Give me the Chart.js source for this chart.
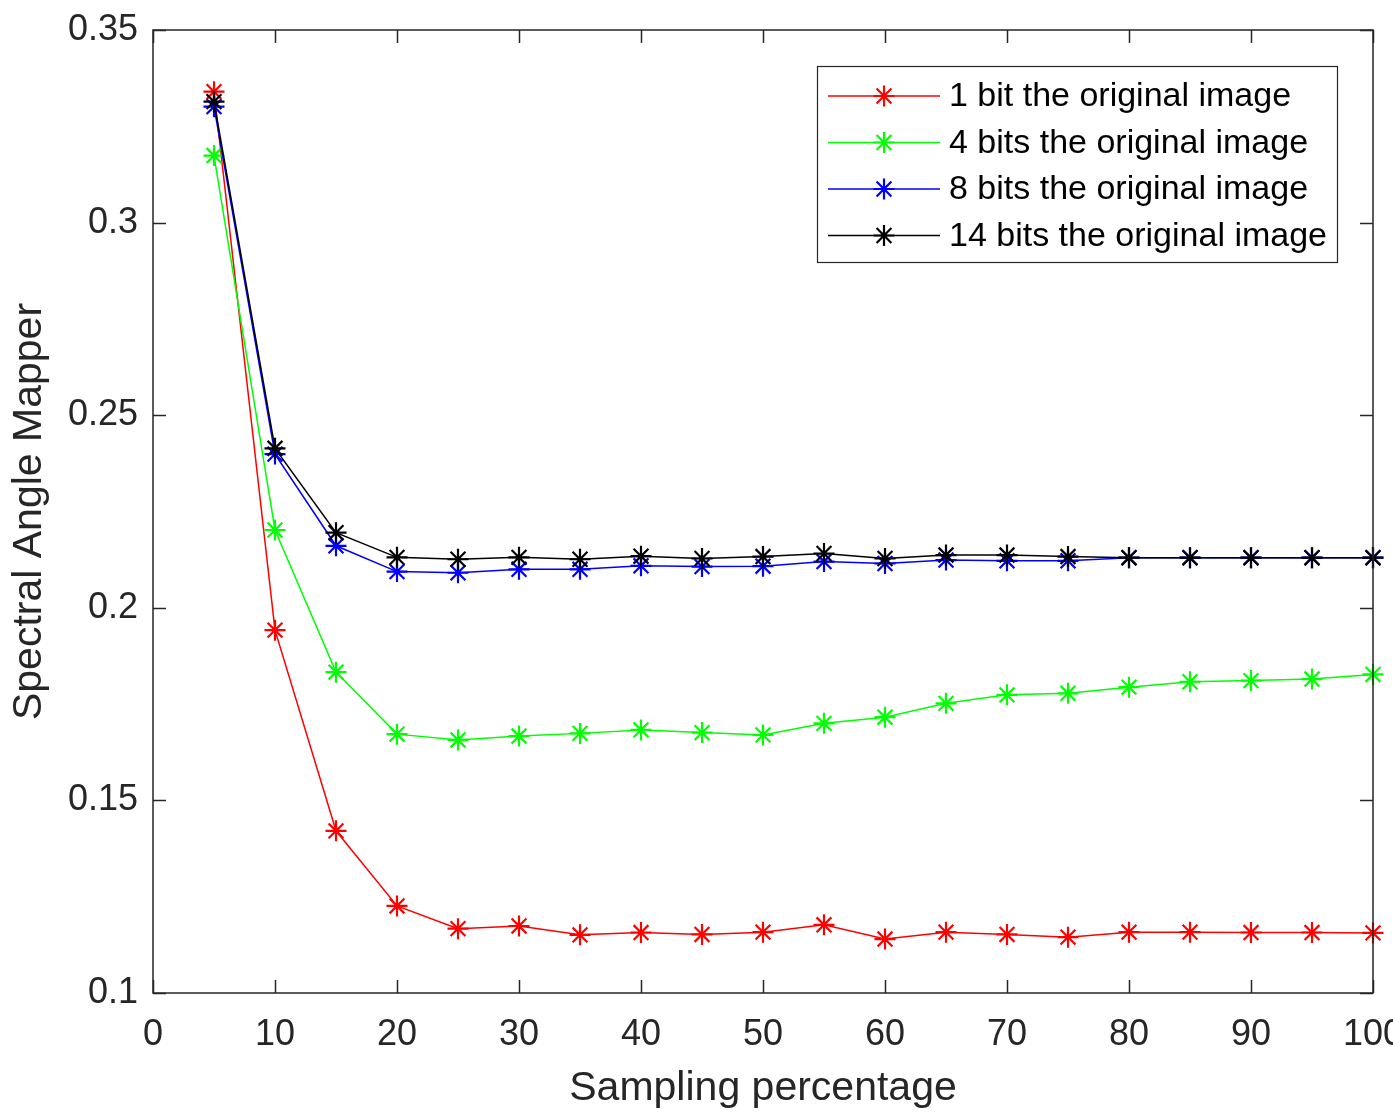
<!DOCTYPE html>
<html>
<head>
<meta charset="utf-8">
<script src="https://cdn.jsdelivr.net/npm/chart.js@4/dist/chart.umd.min.js"></script>
<style>
  html, body { margin: 0; padding: 0; background: #fff; overflow: hidden; }
  #wrap { width: 1420px; height: 1113px; position: relative; }
</style>
</head>
<body>
<div id="wrap"><canvas id="myChart" width="1420" height="1113"></canvas></div>
<script>
const samplingPct = [5,10,15,20,25,30,35,40,45,50,55,60,65,70,75,80,85,90,95,100];

const bits1  = [0.3340,0.1942,0.1421,0.1226,0.1167,0.1174,0.1151,0.1157,0.1152,0.1158,0.1177,0.1140,0.1158,0.1152,0.1145,0.1158,0.1158,0.1157,0.1157,0.1156];
const bits4  = [0.3174,0.2202,0.1833,0.1672,0.1657,0.1667,0.1674,0.1683,0.1676,0.1670,0.1700,0.1716,0.1752,0.1774,0.1778,0.1794,0.1808,0.1811,0.1815,0.1827];
const bits8  = [0.3301,0.2399,0.2161,0.2094,0.2091,0.2100,0.2100,0.2109,0.2107,0.2108,0.2120,0.2115,0.2124,0.2122,0.2122,0.2130,0.2130,0.2130,0.2130,0.2130];
const bits14 = [0.3314,0.2414,0.2195,0.2131,0.2126,0.2131,0.2126,0.2134,0.2128,0.2133,0.2141,0.2128,0.2137,0.2137,0.2133,0.2130,0.2130,0.2130,0.2130,0.2130];

const seriesLabels = ['1 bit the original image','4 bits the original image','8 bits the original image','14 bits the original image'];
const seriesColors = ['#ff0000','#00ff00','#0000ff','#000000'];

const xTicks = [0,10,20,30,40,50,60,70,80,90,100];
const yTicks = [0.1,0.15,0.2,0.25,0.3,0.35];

const FONT = 'Arial, "Liberation Sans", Helvetica, sans-serif';
const AXIS_COLOR = '#262626';

function toPoints(ys) {
  return samplingPct.map((x, i) => ({x: x, y: ys[i]}));
}

// later series are drawn on top, as in the original plot
function makeSet(label, ys, color, order) {
  return {
    label: label,
    data: toPoints(ys),
    order: order,
    borderColor: color,
    backgroundColor: color,
    borderWidth: 1.5,
    pointStyle: 'star',
    pointRadius: 10.5,
    pointBorderWidth: 2.2,
    pointHoverRadius: 10.5,
    tension: 0,
    clip: false
  };
}

function drawStar(ctx, x, y, r, color) {
  ctx.save();
  ctx.strokeStyle = color;
  ctx.lineWidth = 2.2;
  ctx.beginPath();
  for (let k = 0; k < 4; k++) {
    const a = k * Math.PI / 4;
    ctx.moveTo(x - r * Math.cos(a), y - r * Math.sin(a));
    ctx.lineTo(x + r * Math.cos(a), y + r * Math.sin(a));
  }
  ctx.stroke();
  ctx.restore();
}

// box round the plot, ticks pointing inwards on all four sides, and legend
const boxPlugin = {
  id: 'boxPlugin',
  afterDraw(chart) {
    const ctx = chart.ctx;
    const a = chart.chartArea;
    const xs = chart.scales.x, ys = chart.scales.y;
    const tl = 13;
    ctx.save();
    ctx.strokeStyle = AXIS_COLOR;
    ctx.lineWidth = 1.5;
    ctx.strokeRect(a.left, a.top, a.right - a.left, a.bottom - a.top);
    ctx.beginPath();
    xTicks.forEach(v => {
      const px = Math.round(xs.getPixelForValue(v)) + 0.5;
      ctx.moveTo(px, a.bottom); ctx.lineTo(px, a.bottom - tl);
      ctx.moveTo(px, a.top); ctx.lineTo(px, a.top + tl);
    });
    yTicks.forEach(v => {
      const py = Math.round(ys.getPixelForValue(v)) + 0.5;
      ctx.moveTo(a.left, py); ctx.lineTo(a.left + tl, py);
      ctx.moveTo(a.right, py); ctx.lineTo(a.right - tl, py);
    });
    ctx.stroke();

    // legend
    const lx = 817, ly = 66, lw = 520, lh = 196;
    ctx.fillStyle = '#fff';
    ctx.fillRect(lx, ly, lw, lh);
    ctx.strokeStyle = AXIS_COLOR;
    ctx.lineWidth = 1.2;
    ctx.strokeRect(lx + 0.5, ly + 0.5, lw, lh);
    ctx.font = '34px ' + FONT;
    ctx.textBaseline = 'middle';
    ctx.textAlign = 'left';
    seriesLabels.forEach((label, i) => {
      const cy = 96 + i * 46.5;
      ctx.strokeStyle = seriesColors[i];
      ctx.lineWidth = 1.5;
      ctx.beginPath();
      ctx.moveTo(828, cy); ctx.lineTo(940, cy);
      ctx.stroke();
      drawStar(ctx, 884, cy, 10.5, seriesColors[i]);
      ctx.fillStyle = '#000';
      ctx.fillText(label, 949, cy + 1);
    });
    ctx.restore();
  }
};

const ctx = document.getElementById('myChart').getContext('2d');

new Chart(ctx, {
  type: 'line',
  data: {
    datasets: [
      makeSet(seriesLabels[0], bits1, seriesColors[0], 3),
      makeSet(seriesLabels[1], bits4, seriesColors[1], 2),
      makeSet(seriesLabels[2], bits8, seriesColors[2], 1),
      makeSet(seriesLabels[3], bits14, seriesColors[3], 0)
    ]
  },
  options: {
    responsive: false,
    animation: false,
    layout: {
      padding: {top: 30, right: 47, bottom: 0, left: 0}
    },
    scales: {
      x: {
        type: 'linear',
        min: 0,
        max: 100,
        afterFit(scale) {
          scale.height = 120;
          scale.paddingLeft = 0;
          scale.paddingRight = 0;
        },
        afterBuildTicks(scale) { scale.ticks = xTicks.map(v => ({value: v})); },
        grid: { display: false, drawTicks: false },
        border: { display: false },
        ticks: {
          padding: 20,
          maxRotation: 0,
          autoSkip: false,
          color: AXIS_COLOR,
          font: { family: FONT, size: 36 }
        },
        title: {
          display: true,
          text: 'Sampling percentage',
          color: AXIS_COLOR,
          font: { family: FONT, size: 41 },
          padding: { top: 0, bottom: 0 }
        }
      },
      y: {
        type: 'linear',
        min: 0.1,
        max: 0.35,
        afterFit(scale) {
          scale.width = 153;
          scale.paddingTop = 0;
          scale.paddingBottom = 0;
        },
        afterBuildTicks(scale) { scale.ticks = yTicks.map(v => ({value: v})); },
        grid: { display: false, drawTicks: false },
        border: { display: false },
        ticks: {
          padding: 15,
          color: AXIS_COLOR,
          font: { family: FONT, size: 36 },
          callback: v => String(+Number(v).toFixed(2))
        },
        title: {
          display: true,
          text: 'Spectral Angle Mapper',
          color: AXIS_COLOR,
          font: { family: FONT, size: 41 },
          padding: { top: 5, bottom: 0 }
        }
      }
    },
    plugins: {
      legend: { display: false },
      tooltip: { enabled: false }
    }
  },
  plugins: [boxPlugin]
});
</script>
</body>
</html>
